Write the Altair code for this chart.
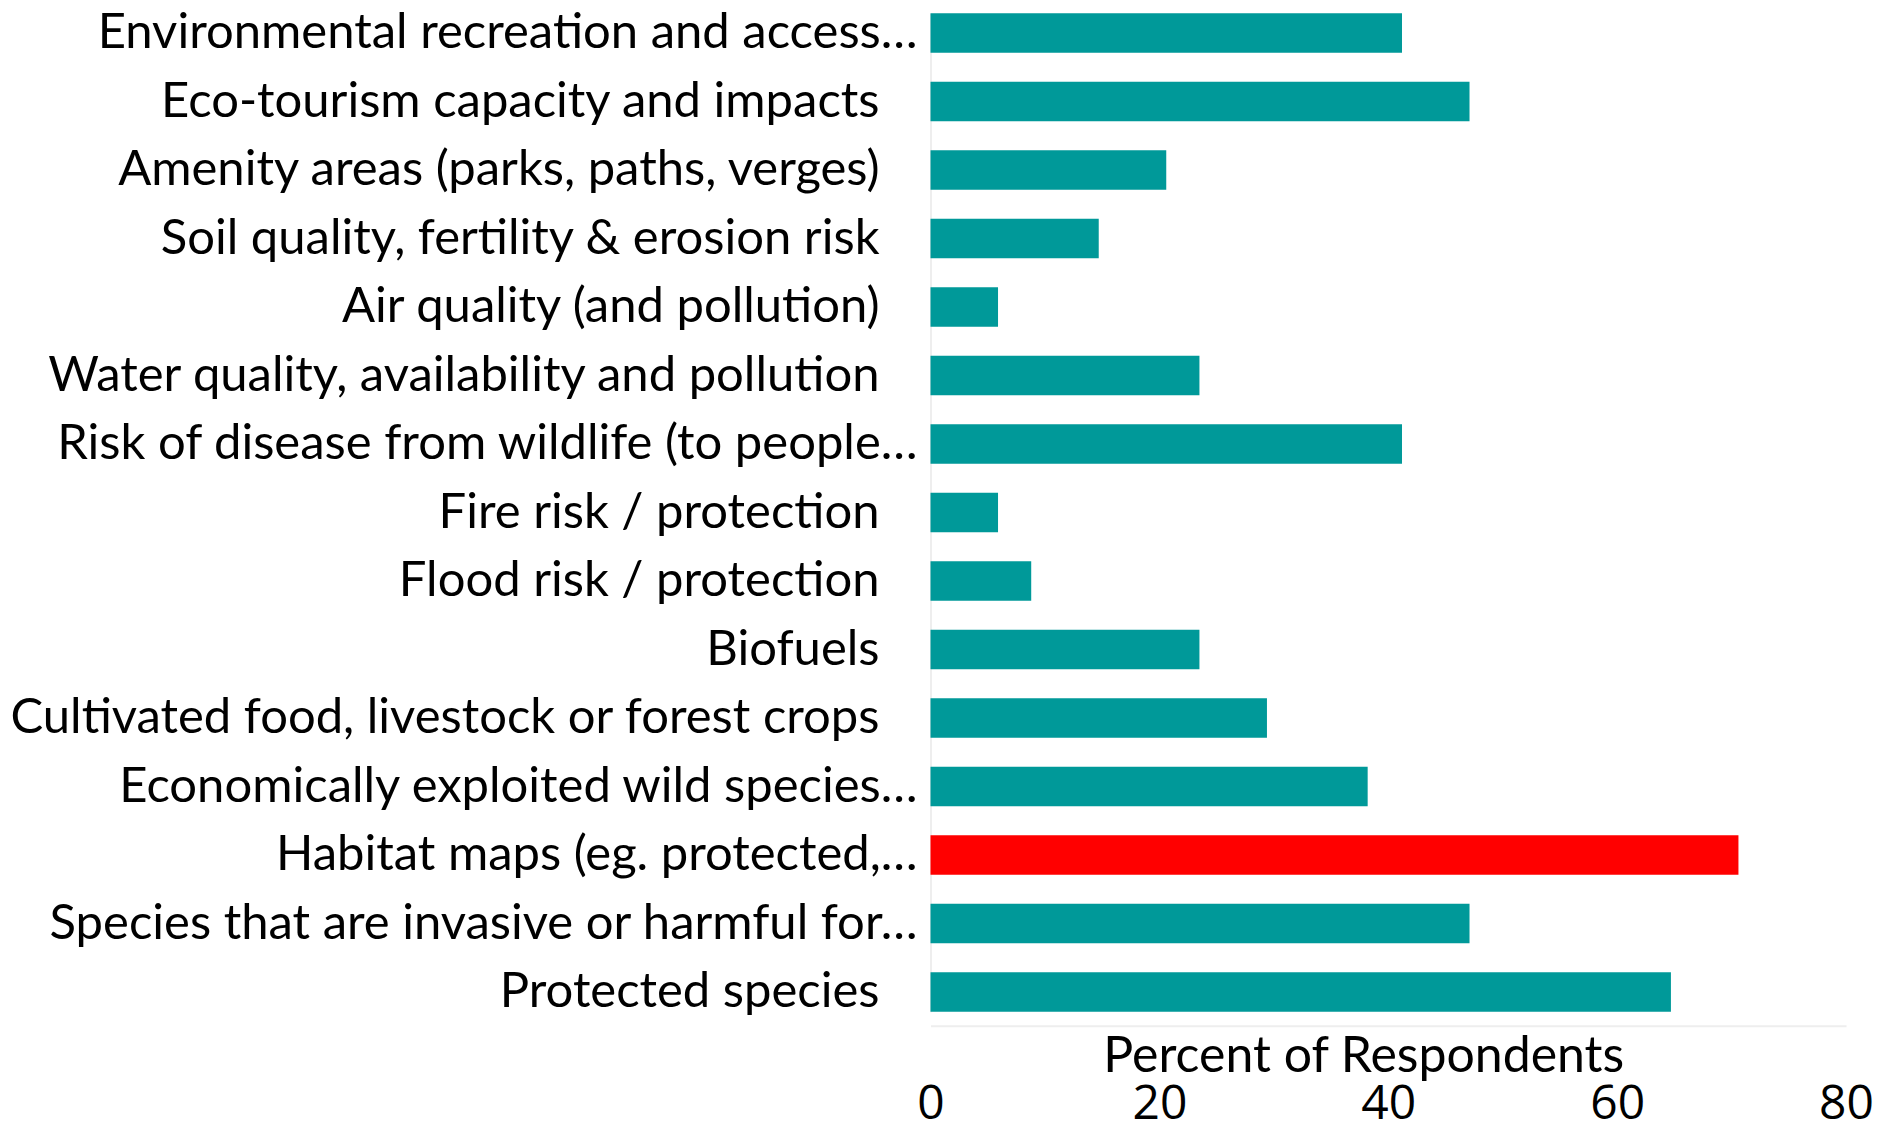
import altair as alt
import pandas as pd

categories = [
    "Environmental recreation and access…",
    "Eco-tourism capacity and impacts",
    "Amenity areas (parks, paths, verges)",
    "Soil quality, fertility & erosion risk",
    "Air quality (and pollution)",
    "Water quality, availability and pollution",
    "Risk of disease from wildlife (to people…",
    "Fire risk / protection",
    "Flood risk / protection",
    "Biofuels",
    "Cultivated food, livestock or forest crops",
    "Economically exploited wild species…",
    "Habitat maps (eg. protected,…",
    "Species that are invasive or harmful for…",
    "Protected species",
]
values = [41.2, 47.1, 20.6, 14.7, 5.9, 23.5, 41.2, 5.9, 8.8, 23.5, 29.4, 38.2, 70.6, 47.1, 64.7]
highlighted = "Habitat maps (eg. protected,…"
x_ticks = [0, 20, 40, 60, 80]

df = pd.DataFrame({"category": categories, "percent": values})
df["group"] = ["highlight" if c == highlighted else "normal" for c in categories]
df["kind"] = ["cut" if c.endswith("…") else "full" for c in categories]

LABEL_FONT = "Lato"
NUM_FONT = "Open Sans"
LABEL_SIZE = 49

y_enc = alt.Y(
    "category:N",
    sort=categories,
    scale=alt.Scale(range=[5, 1004], paddingInner=0.424, paddingOuter=0),
    axis=alt.Axis(labels=False, ticks=False, domain=True, domainColor="#eeeeee",
                  domainWidth=2, grid=False, title=None),
)

bars = alt.Chart(df).mark_bar().encode(
    x=alt.X(
        "percent:Q",
        scale=alt.Scale(domain=[0, 80], nice=False),
        axis=alt.Axis(
            values=x_ticks, ticks=False, tickSize=0, grid=False,
            domain=True, domainColor="#eeeeee", domainWidth=2,
            labelFont=NUM_FONT, labelFontSize=48, labelColor="black",
            labelBaseline="alphabetic", labelPadding=93, labelFlush=False,
            title="Percent of Respondents", titleFont=LABEL_FONT, titleFontSize=50,
            titleFontWeight="normal", titleColor="black", titleBaseline="alphabetic",
            titleY=46, titleX=433, titleAlign="center",
        ),
    ),
    y=y_enc,
    color=alt.Color(
        "group:N",
        scale=alt.Scale(domain=["normal", "highlight"], range=["#009999", "#ff0000"]),
        legend=None,
    ),
)

text_full = alt.Chart(df).transform_filter("datum.kind == 'full'").mark_text(
    align="right", baseline="middle", font=LABEL_FONT, fontSize=LABEL_SIZE, color="black"
).encode(y=y_enc, x=alt.value(-51), text="category:N")

text_cut = alt.Chart(df).transform_filter("datum.kind == 'cut'").mark_text(
    align="right", baseline="middle", font=LABEL_FONT, fontSize=LABEL_SIZE, color="black"
).encode(y=y_enc, x=alt.value(-13), text="category:N")

chart = alt.layer(bars, text_full, text_cut).properties(
    width=916, height=1018,
    autosize=alt.AutoSizeParams(type="none"),
    padding={"left": 923, "top": 0, "right": 40, "bottom": 96},
).configure_view(stroke=None)

chart.save("out.html", embed_options={"renderer": "svg", "actions": False})
